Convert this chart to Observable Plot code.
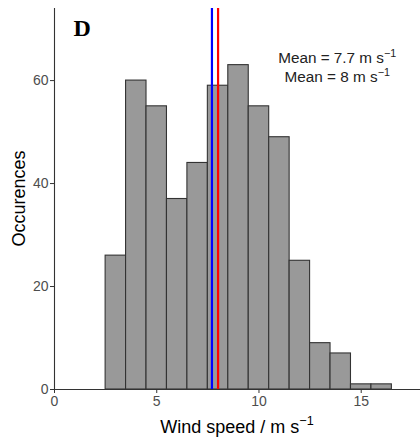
<!DOCTYPE html>
<html>
<head>
<meta charset="utf-8">
<script src="https://cdn.jsdelivr.net/npm/d3@7"></script>
<script src="https://cdn.jsdelivr.net/npm/@observablehq/plot@0.6"></script>
<style>
  html, body { margin: 0; padding: 0; background: #fff; }
  svg { display: block; }
</style>
</head>
<body>
<div id="chart"></div>
<script>
// Histogram bins (1 m/s wide, centred on integers)
const binCenters = [3, 4, 5, 6, 7, 8, 9, 10, 11, 12, 13, 14, 15, 16];
const counts     = [26, 60, 55, 37, 44, 59, 63, 55, 49, 25, 9, 7, 1, 1];
const meanValues = [7.7, 8];
const meanColors = ["#0000FF", "#FF0000"];
const meanLabels = ["Mean = 7.7 m s", "Mean = 8 m s"];
const meanLabelY = [64.2, 60.6];
const xTicks = [0, 5, 10, 15];
const yTicks = [0, 20, 40, 60];
const panelLetter = "D";

const bins = binCenters.map((c, i) => ({x1: c - 0.5, x2: c + 0.5, n: counts[i]}));
const means = meanValues.map((m, i) => ({m, color: meanColors[i]}));
const labels = meanLabels.map((t, i) => ({t, y: meanLabelY[i]}));

const font = "'Liberation Sans', Arial, sans-serif";

// function mark for text with superscripts
function supText(rows, xs, ys, opts) {
  return (index, scales, values, dims) => {
    const g = d3.create("svg:g");
    rows.forEach(r => {
      const t = g.append("text")
        .attr("x", typeof xs === "function" ? xs(r, scales, dims) : xs)
        .attr("y", typeof ys === "function" ? ys(r, scales, dims) : ys)
        .attr("text-anchor", "middle")
        .attr("font-family", font)
        .attr("font-size", opts.size)
        .attr("fill", opts.fill);
      if (opts.rotate) t.attr("transform", opts.rotate(r, scales, dims));
      t.append("tspan").text(r.t);
      if (opts.sup) t.append("tspan").attr("font-size", opts.size * 0.7).attr("dy", -opts.size * 0.42).text("\u22121");
    });
    return g.node();
  };
}

const plot = Plot.plot({
  width: 420,
  height: 442,
  marginLeft: 54,
  marginRight: 0,
  marginTop: 8,
  marginBottom: 53,
  style: {fontFamily: font, background: "#fff"},
  x: {domain: [0, 17.9]},
  y: {domain: [0, 74]},
  marks: [
    Plot.rectY(bins, {x1: "x1", x2: "x2", y: "n", fill: "#999999", stroke: "#333333", strokeWidth: 1.1}),
    Plot.ruleX(means, {x: "m", stroke: "color", strokeWidth: 2.2}),
    Plot.ruleY([0], {stroke: "#333333", strokeWidth: 1.1}),
    Plot.ruleX([0], {stroke: "#333333", strokeWidth: 1.1}),
    Plot.axisX({ticks: xTicks, tickSize: 4, tickPadding: 3, fontSize: 14, color: "#4d4d4d", stroke: "#333", label: null}),
    Plot.axisY({ticks: yTicks, tickSize: 4, tickPadding: 2, fontSize: 14, color: "#4d4d4d", stroke: "#333", label: null}),
    Plot.text([panelLetter], {frameAnchor: "top-left", dx: 19, dy: 10, text: d => d, fontFamily: "'Liberation Serif', 'Times New Roman', serif", fontWeight: "bold", fontSize: 24, fill: "#000", textAnchor: "start", lineAnchor: "top"}),
    supText(labels, (r, s) => s.x(13.85), (r, s) => s.y(r.y) + 5, {size: 15.3, fill: "#222", sup: true}),
    supText([{t: "Wind speed / m s"}], (r, s, d) => (d.marginLeft + d.width - d.marginRight) / 2, 433, {size: 18, fill: "#000", sup: true}),
    supText([{t: "Occurences"}], 0, 0, {size: 18, fill: "#000", sup: false,
      rotate: (r, s, d) => `translate(25, ${(d.marginTop + d.height - d.marginBottom) / 2}) rotate(-90)`})
  ]
});
document.getElementById("chart").appendChild(plot);
</script>
</body>
</html>
